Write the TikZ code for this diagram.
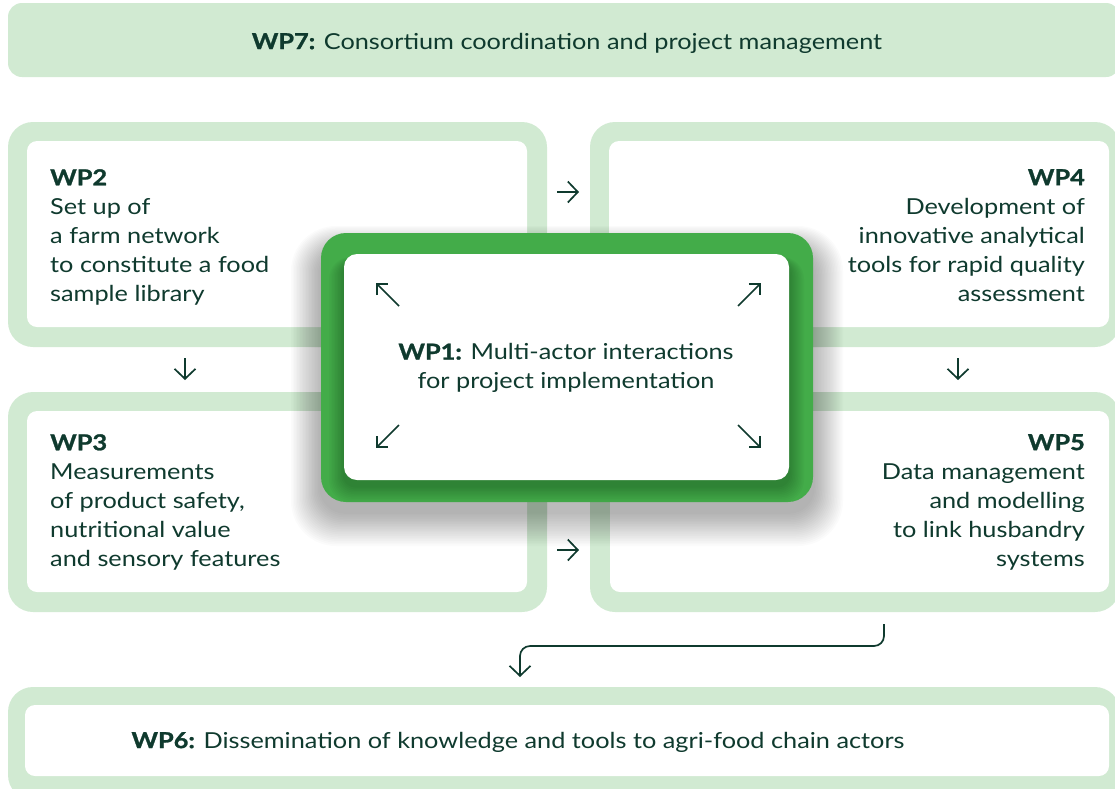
\documentclass[tikz,border=0pt]{standalone}
\usepackage{fontspec}
\setmainfont{Lato}[FakeStretch=1.15, BoldFeatures={FakeBold=1.2}]
\usetikzlibrary{arrows.meta}
\definecolor{lg}{HTML}{D1EAD2}
\definecolor{mg}{HTML}{43AC49}
\definecolor{tx}{HTML}{0F3A2E}
\begin{document}
\begin{tikzpicture}[x=1pt,y=-1pt,
  outerfill/.style={fill=lg, rounded corners=25pt},
  innerfill/.style={fill=white, rounded corners=10pt},
  wptext/.style={inner sep=0pt, text=tx, font=\fontsize{22}{29}\selectfont},
  flowarrow/.style={draw=tx, line width=1.7pt, -{Straight Barb[length=10pt,width=21pt,line width=1.7pt]}},
]
\useasboundingbox (0,0) rectangle (1115,788);
\clip (0,0) rectangle (1115,788);

% WP7 bar
\fill[lg, rounded corners=14pt] (8,3) rectangle (1120,77);
\node[wptext, anchor=center] (wp7) at (567,43) {\textbf{WP7:} Consortium coordination and project management};

% WP2
\fill[outerfill] (8,122) rectangle (547,347);
\fill[innerfill] (27,141) rectangle (527,327);
\node[wptext, anchor=north west, align=left] (wp2) at (50,169)
  {\textbf{WP2}\\Set up of\\a farm network\\to constitute a food\\sample library};

% WP4
\fill[outerfill] (590,122) rectangle (1120,347);
\fill[innerfill] (609,141) rectangle (1109,327);
\node[wptext, anchor=north east, align=right] (wp4) at (1085,169)
  {\textbf{WP4}\\Development of\\innovative analytical\\tools for rapid quality\\assessment};

% WP3
\fill[outerfill] (8,392) rectangle (547,612);
\fill[innerfill] (27,411) rectangle (527,592);
\node[wptext, anchor=north west, align=left] (wp3) at (50,434)
  {\textbf{WP3}\\Measurements\\of product safety,\\nutritional value\\and sensory features};

% WP5
\fill[outerfill] (590,392) rectangle (1120,612);
\fill[innerfill] (610,411) rectangle (1109,592);
\node[wptext, anchor=north east, align=right] (wp5) at (1085,434)
  {\textbf{WP5}\\Data management\\and modelling\\to link husbandry\\systems};

% WP6
\fill[outerfill] (8,687) rectangle (1120,800);
\fill[innerfill] (25,705) rectangle (1109,776);
\node[wptext, anchor=center] (wp6) at (518,742) {\textbf{WP6:} Dissemination of knowledge and tools to agri-food chain actors};

% arrows between boxes
\coordinate (a24s) at (557,192); \coordinate (a24e) at (579,192);
\coordinate (a35s) at (557,550); \coordinate (a35e) at (579,550);
\coordinate (a23s) at (185,358); \coordinate (a23e) at (185,380);
\coordinate (a45s) at (958,358); \coordinate (a45e) at (958,380);
\draw[flowarrow] (a24s) -- (a24e);
\draw[flowarrow] (a35s) -- (a35e);
\draw[flowarrow] (a23s) -- (a23e);
\draw[flowarrow] (a45s) -- (a45e);

% WP1 central box with shadow
\foreach \i in {1,...,20}{
  \fill[black, opacity=0.016, rounded corners={25pt+\i pt}] ({321-\i*1.5},{250-\i*1.2}) rectangle ({813+\i*1.5},{512+\i*1.7});
}
\fill[mg, rounded corners=25pt] (321,233) rectangle (813,502);
\begin{scope}
  \clip[rounded corners=25pt] (321,233) rectangle (813,502);
  \foreach \i in {1,...,10}{
    \fill[black, opacity=0.022, rounded corners={12pt+\i pt}] ({344-\i*1.5},{262-\i*0.5}) rectangle ({789+\i*1.5},{486+\i*1.6});
  }
\end{scope}
\fill[white, rounded corners=13pt] (344,254) rectangle (789,480);
\node[wptext, anchor=center, align=center] (wp1) at (566,368)
  {\textbf{WP1:} Multi-actor interactions\\for project implementation};

\coordinate (nw1) at (399,306); \coordinate (nw2) at (376,283);
\coordinate (ne1) at (738,306); \coordinate (ne2) at (761,283);
\coordinate (sw1) at (399,425); \coordinate (sw2) at (376,448);
\coordinate (se1) at (738,425); \coordinate (se2) at (761,448);
\tikzset{diagarrow/.style={draw=tx, line width=1.7pt, -{Straight Barb[length=8pt,width=16pt,line width=1.7pt]}}}
\draw[diagarrow] (nw1) -- (nw2);
\draw[diagarrow] (ne1) -- (ne2);
\draw[diagarrow] (sw1) -- (sw2);
\draw[diagarrow] (se1) -- (se2);

% connector WP5 -> WP6
\coordinate (c0) at (884,624);
\coordinate (c3) at (520,677);
\draw[flowarrow, rounded corners=10pt] (c0) -- (884,646) -- (520,646) -- (c3);
\end{tikzpicture}
\end{document}
